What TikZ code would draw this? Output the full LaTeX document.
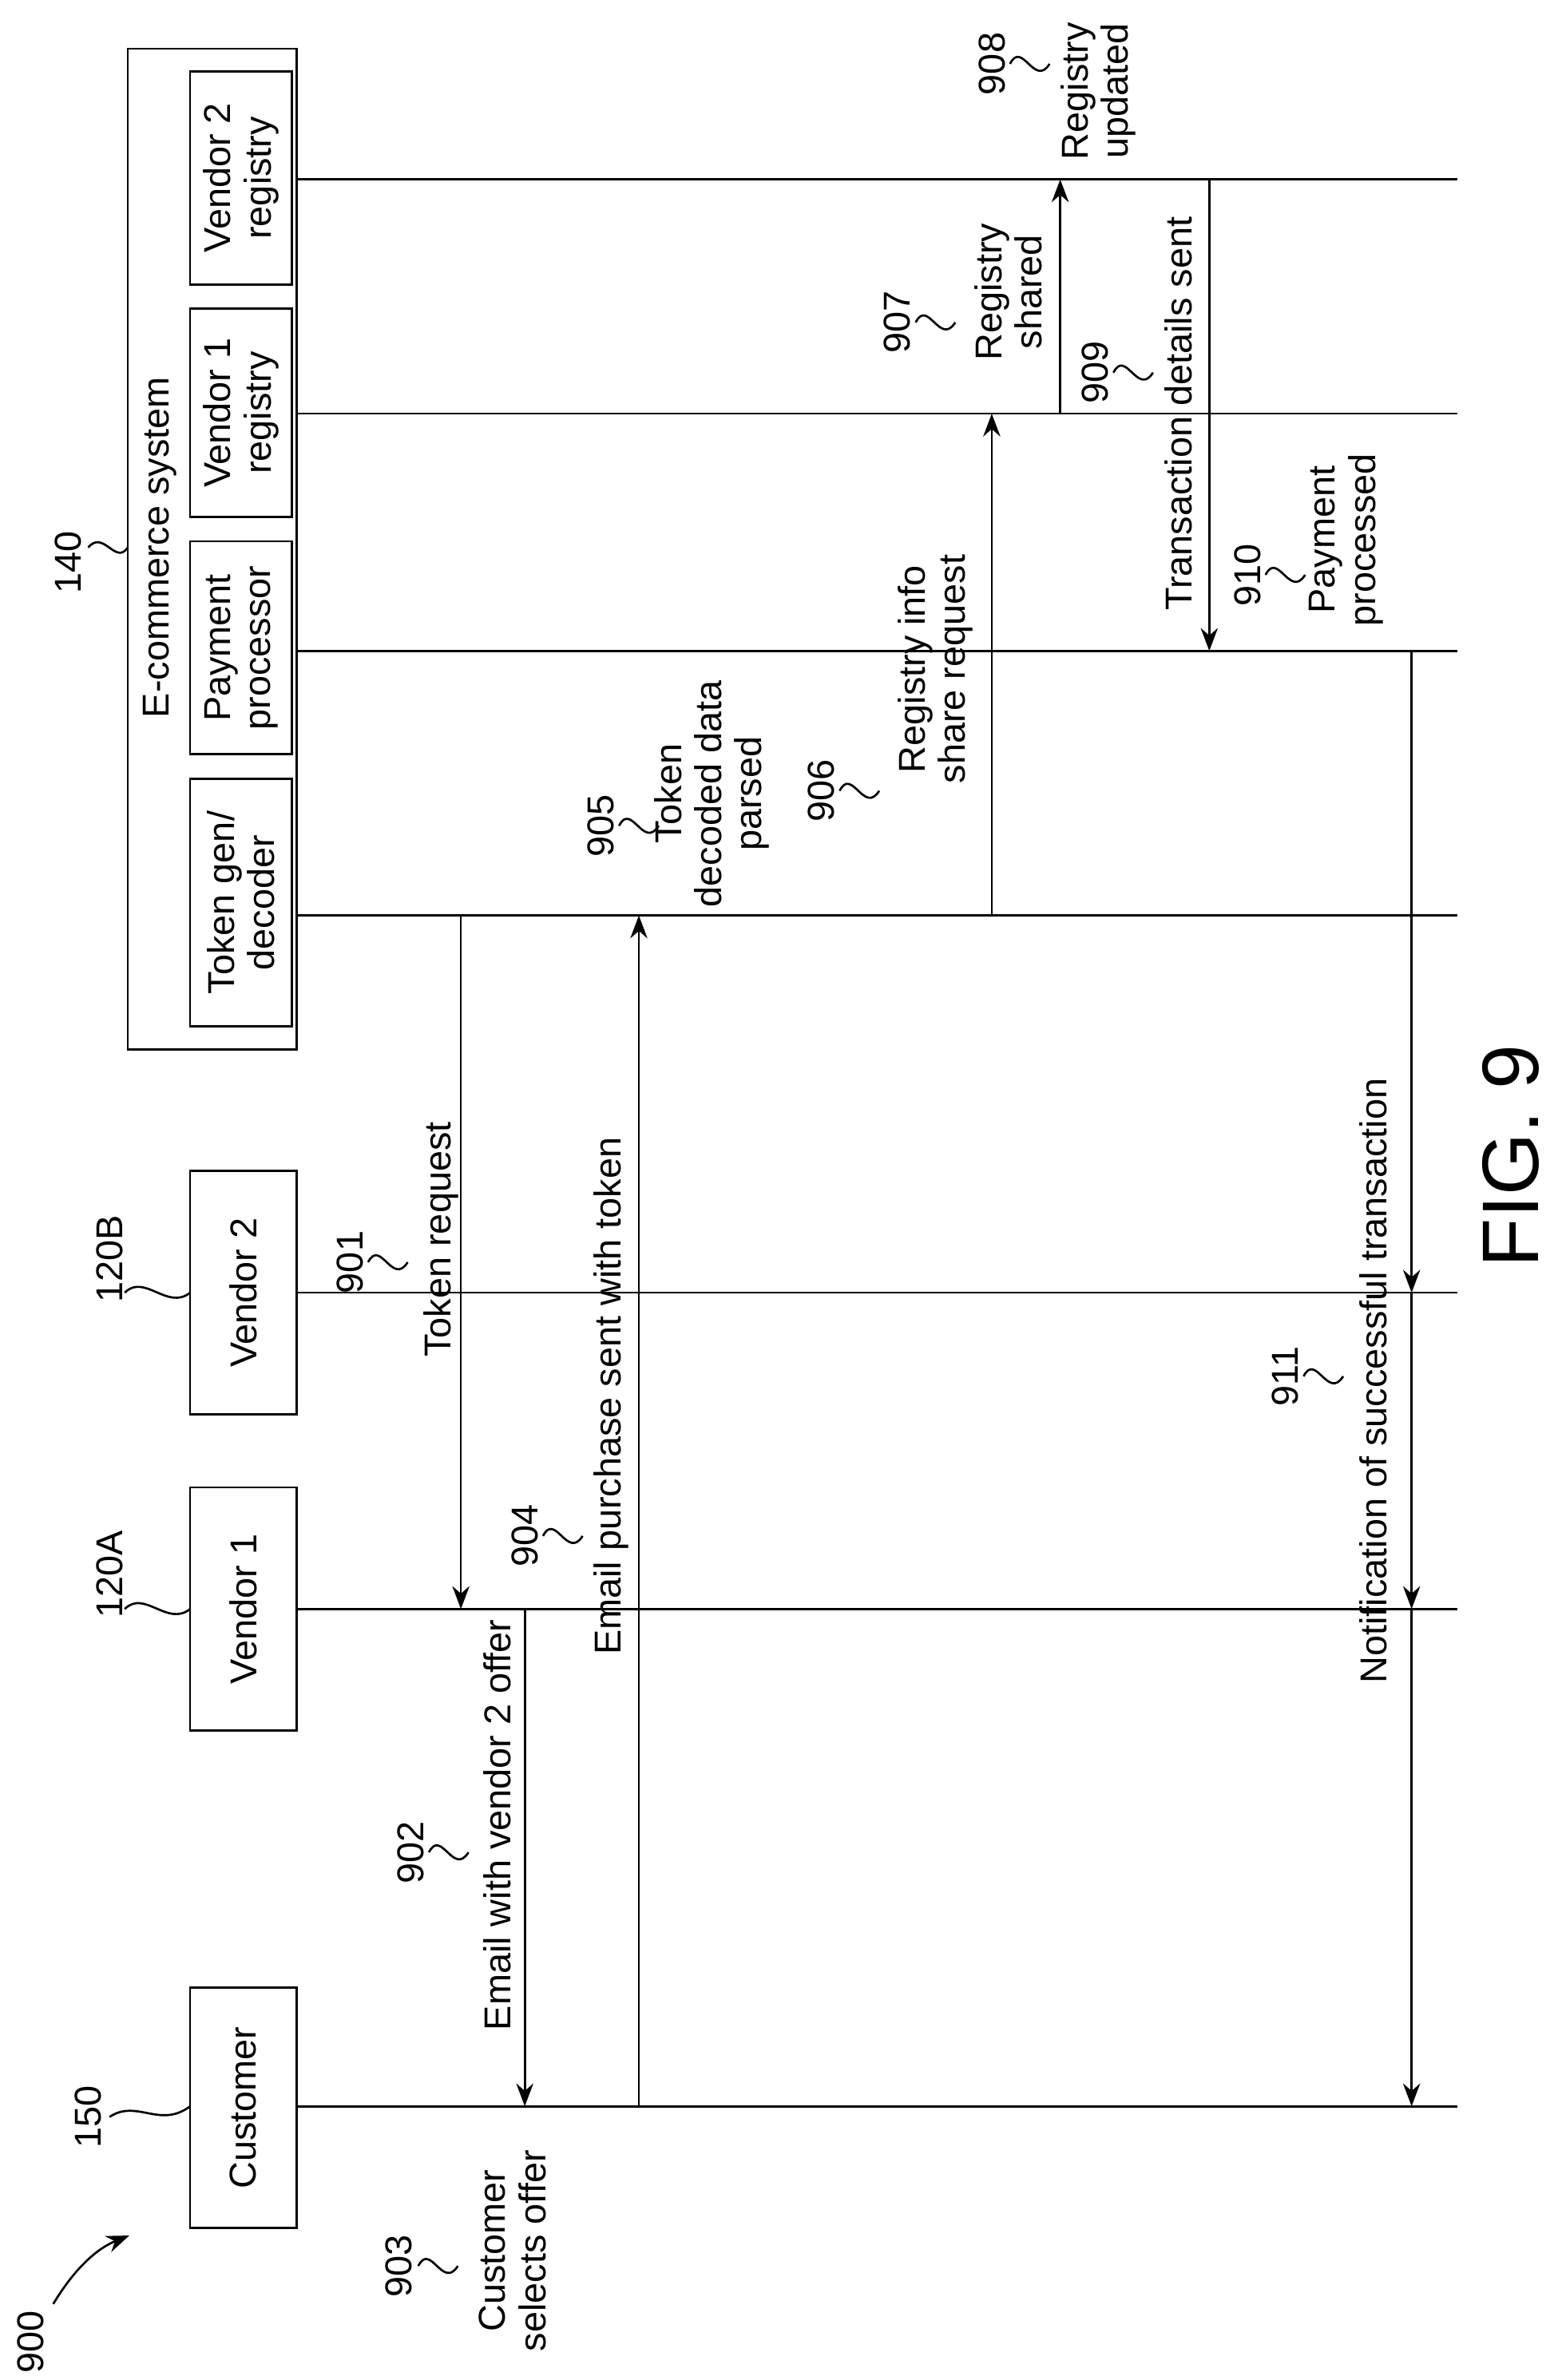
\documentclass[tikz,border=0pt]{standalone}
\usepackage{fontspec}
\setmainfont{Liberation Sans}
\usetikzlibrary{arrows.meta}
\tikzset{
  lbl/.style={rotate=90,align=center,font=\fontsize{14}{15}\selectfont,inner sep=1pt},
  num/.style={rotate=90,font=\fontsize{14}{15}\selectfont,inner sep=1pt},
  box/.style={draw,thick},
  msg/.style={thick,-{Stealth[length=3mm]}},
  pics/squig/.style={code={\draw[thick] (0,0) .. controls (8,-16) and (16,16) .. (26,0);}}
}
\begin{document}
\begin{tikzpicture}[x=0.02cm,y=-0.02cm]
	\useasboundingbox (0,0) rectangle (1024,1565);

	%LIFELINES
	\foreach \n/\y in {cu/1385,va/1058,vb/850,tg/602,pp/428,ra/272,rb/118}{
		\coordinate (\n-s) at (195,\y);
		\coordinate (\n-e) at (958,\y);
		\draw[thick] (\n-s)--(\n-e);
	}

	%BOXES
	\draw[box] (125,1307) rectangle (195,1465) node[lbl,midway] (cust) {Customer};
	\draw[box] (125,978) rectangle (195,1138) node[lbl,midway] (v1) {Vendor 1};
	\draw[box] (125,770) rectangle (195,930) node[lbl,midway] (v2) {Vendor 2};
	\draw[box] (84,32) rectangle (195,690);
	\node[lbl] (ecom) at (105,360) {E-commerce system};
	\draw[box] (125,512) rectangle (192,675) node[lbl,midway] (tok) {Token gen/\\decoder};
	\draw[box] (125,356) rectangle (192,496) node[lbl,midway] (pay) {Payment\\processor};
	\draw[box] (125,203) rectangle (192,340) node[lbl,midway] (reg1) {Vendor 1\\registry};
	\draw[box] (125,47) rectangle (192,187) node[lbl,midway] (reg2) {Vendor 2\\registry};

	%REFERENCE NUMBERS
	\node[num] (n150) at (58,1392) {150};
	\draw[thick] (72,1392) .. controls (90,1380) and (105,1400) .. (125,1385);
	\node[num] (n120a) at (72,1035) {120A};
	\draw[thick] (82,1058) .. controls (95,1045) and (110,1070) .. (125,1058);
	\node[num] (n120b) at (72,828) {120B};
	\draw[thick] (82,850) .. controls (95,837) and (110,862) .. (125,850);
	\node[num] (n140) at (45,370) {140};
	\draw[thick] (58,360) .. controls (68,348) and (76,372) .. (84,360);
	\node[num] (n900) at (20,1540) {900};
	\draw[thick,-{Stealth[length=3mm]}] (35,1515) .. controls (50,1490) and (65,1478) .. (85,1470);

	%MESSAGES
	\draw[msg] (303,602)--(303,1058);
	\node[lbl] (t901) at (290,815) {Token request};
	\node[num] (n901) at (230,830) {901}; \pic at (242,830) {squig};

	\draw[msg] (345,1058)--(345,1385);
	\node[lbl] (t902) at (327,1200) {Email with vendor 2 offer};
	\node[num] (n902) at (270,1218) {902}; \pic at (282,1218) {squig};

	\node[lbl] (t903) at (337,1480) {Customer\\selects offer};
	\node[num] (n903) at (262,1490) {903}; \pic at (275,1490) {squig};

	\draw[msg] (420,1385)--(420,602);
	\node[lbl] (t904) at (402,918) {Email purchase sent with token};
	\node[num] (n904) at (345,1010) {904}; \pic at (357,1010) {squig};

	\node[lbl] (t905) at (468,522) {Token\\decoded data\\parsed};
	\node[num] (n905) at (395,543) {905}; \pic at (407,543) {squig};

	\draw[msg] (652,602)--(652,272);
	\node[lbl] (t906) at (615,440) {Registry info\\share request};
	\node[num] (n906) at (540,520) {906}; \pic at (552,520) {squig};

	\draw[msg] (697,272)--(697,118);
	\node[lbl] (t907) at (663,192) {Registry\\shared};
	\node[num] (n907) at (590,212) {907}; \pic at (602,212) {squig};

	\node[lbl] (t908) at (722,60) {Registry\\updated};
	\node[num] (n908) at (652,42) {908}; \pic at (664,42) {squig};

	\draw[msg] (795,118)--(795,428);
	\node[lbl] (t909) at (775,272) {Transaction details sent};
	\node[num] (n909) at (720,245) {909}; \pic at (732,245) {squig};

	\node[lbl] (t910) at (885,355) {Payment\\processed};
	\node[num] (n910) at (820,378) {910}; \pic at (832,378) {squig};

	\draw[msg] (928,428)--(928,850);
	\draw[msg] (928,850)--(928,1058);
	\draw[msg] (928,1058)--(928,1385);
	\node[lbl] (t911) at (903,908) {Notification of successful transaction};
	\node[num] (n911) at (845,905) {911}; \pic at (857,905) {squig};

	\node[rotate=90,font=\fontsize{30}{32}\selectfont] (fig) at (993,760) {FIG. 9};
\end{tikzpicture}
\end{document}
